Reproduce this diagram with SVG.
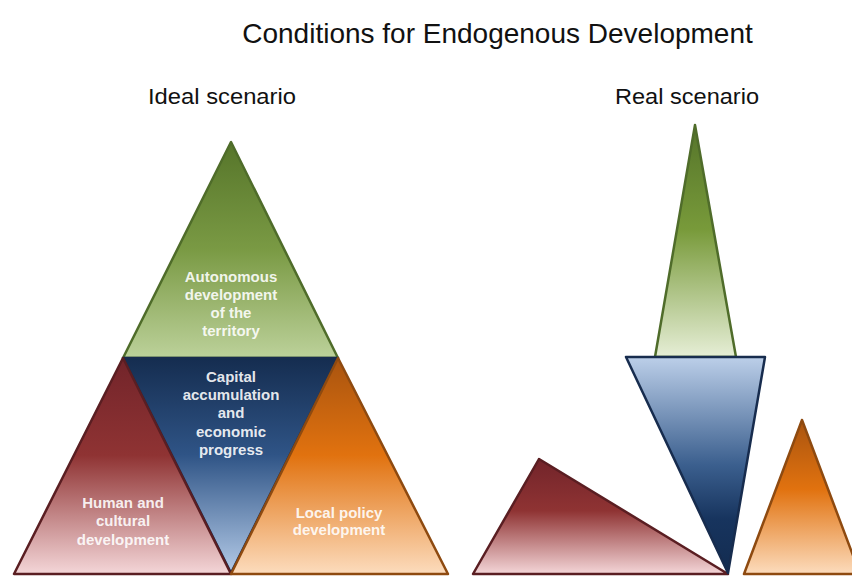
<svg xmlns="http://www.w3.org/2000/svg" width="852" height="577" viewBox="0 0 852 577">
<defs>
<linearGradient id="gGreen" x1="0" y1="0" x2="0" y2="1"><stop offset="0" stop-color="#56752a"/><stop offset="0.5" stop-color="#7a9a44"/><stop offset="1" stop-color="#bcd19a"/></linearGradient>
<linearGradient id="gBlueDown" x1="0" y1="0" x2="0" y2="1"><stop offset="0" stop-color="#152d50"/><stop offset="0.45" stop-color="#2f5486"/><stop offset="1" stop-color="#b4cbe8"/></linearGradient>
<linearGradient id="gRed" x1="0" y1="0" x2="0" y2="1"><stop offset="0" stop-color="#72242a"/><stop offset="0.45" stop-color="#8f3333"/><stop offset="1" stop-color="#f4d6d8"/></linearGradient>
<linearGradient id="gOrange" x1="0" y1="0" x2="0" y2="1"><stop offset="0" stop-color="#a9540f"/><stop offset="0.45" stop-color="#e1720f"/><stop offset="1" stop-color="#fcdcbd"/></linearGradient>
<linearGradient id="gGreenSpike" x1="0" y1="0" x2="0" y2="1"><stop offset="0" stop-color="#55742a"/><stop offset="0.45" stop-color="#789a3a"/><stop offset="1" stop-color="#e6eed6"/></linearGradient>
<linearGradient id="gBlueUp" x1="0" y1="0" x2="0" y2="1"><stop offset="0" stop-color="#bccfe9"/><stop offset="0.5" stop-color="#3b5f8e"/><stop offset="0.75" stop-color="#17345e"/><stop offset="1" stop-color="#132c50"/></linearGradient>
</defs>
<style>
.title{font-family:"Liberation Sans",Arial,sans-serif;fill:#111;text-anchor:middle;}
.lbl{font-family:"Liberation Sans",Arial,sans-serif;font-weight:bold;font-size:15px;fill:#ffffff;fill-opacity:0.9;text-anchor:middle;}
.sg{stroke:#4f6c2a;stroke-width:2.5;stroke-linejoin:round;}
.sb{stroke:#172c4e;stroke-width:2.5;stroke-linejoin:round;}
.sr{stroke:#5a1e22;stroke-width:2.5;stroke-linejoin:round;}
.so{stroke:#8e4a10;stroke-width:2.5;stroke-linejoin:round;}
</style>
<text class="title" x="497.5" y="43" font-size="28">Conditions for Endogenous Development</text>
<text class="title" x="222" y="104" font-size="22" textLength="148" lengthAdjust="spacingAndGlyphs">Ideal scenario</text>
<text class="title" x="687" y="104" font-size="22" textLength="144" lengthAdjust="spacingAndGlyphs">Real scenario</text>

<g id="ideal-green">
<polygon points="231,142 123,358 338,358" fill="url(#gGreen)" class="sg"/>
<text class="lbl" x="231" y="282">Autonomous</text>
<text class="lbl" x="231" y="300">development</text>
<text class="lbl" x="231" y="318">of the</text>
<text class="lbl" x="231" y="336">territory</text>
</g>
<g id="ideal-blue">
<polygon points="123,358 338,358 231,573" fill="url(#gBlueDown)" class="sb"/>
<text class="lbl" x="231" y="382">Capital</text>
<text class="lbl" x="231" y="400">accumulation</text>
<text class="lbl" x="231" y="418">and</text>
<text class="lbl" x="231" y="437">economic</text>
<text class="lbl" x="231" y="455">progress</text>
</g>
<g id="ideal-red">
<polygon points="123,358 14,574 231,574" fill="url(#gRed)" class="sr"/>
<text class="lbl" x="123" y="508">Human and</text>
<text class="lbl" x="123" y="526">cultural</text>
<text class="lbl" x="123" y="545">development</text>
</g>
<g id="ideal-orange">
<polygon points="338,358 231,574 448,574" fill="url(#gOrange)" class="so"/>
<text class="lbl" x="339" y="518">Local policy</text>
<text class="lbl" x="339" y="535">development</text>
</g>

<g id="real-green">
<polygon points="695,125 655,357 736,357" fill="url(#gGreenSpike)" class="sg"/>
</g>
<g id="real-red">
<polygon points="539,459 473,574 728,574" fill="url(#gRed)" class="sr"/>
</g>
<g id="real-blue">
<polygon points="626,357 765,357 728,573" fill="url(#gBlueUp)" class="sb"/>
</g>
<g id="real-orange">
<polygon points="802,420 744,574 860,574" fill="url(#gOrange)" class="so"/>
</g>
<g id="connectors"/>
</svg>
